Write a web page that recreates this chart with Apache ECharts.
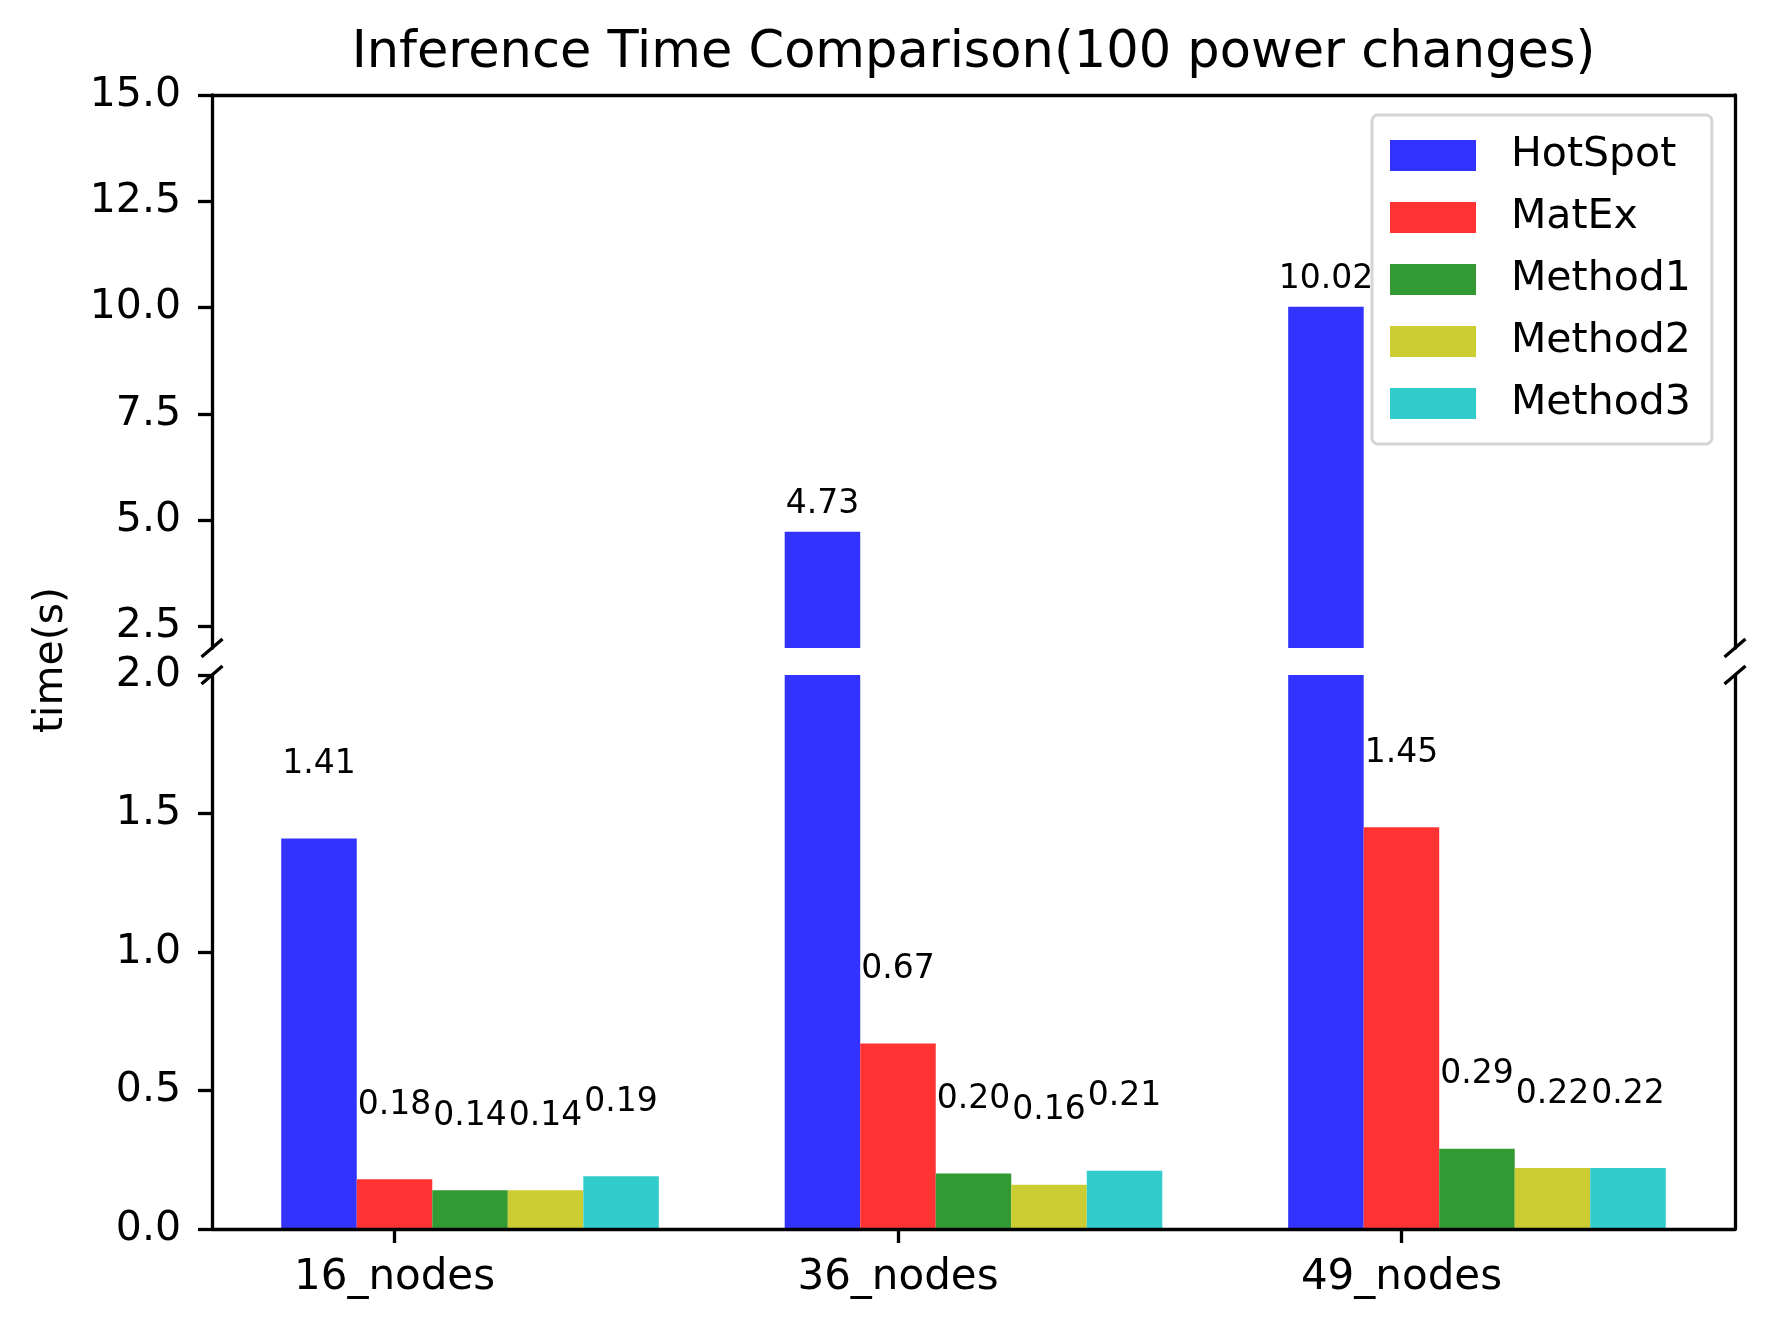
<!DOCTYPE html>
<html>
<head>
<meta charset="utf-8">
<script src="https://cdn.jsdelivr.net/npm/echarts@6/dist/echarts.min.js"></script>
<style>html,body{margin:0;padding:0;background:#fff}#main{width:1769px;height:1323px}</style>
</head>
<body>
<div id="main"></div>
<script>
// ---------------- data ----------------
const categories = ['16_nodes', '36_nodes', '49_nodes'];
const seriesNames = ['HotSpot', 'MatEx', 'Method1', 'Method2', 'Method3'];
const hotspot = [1.41, 4.73, 10.02];
const matex   = [0.18, 0.67, 1.45];
const method1 = [0.14, 0.20, 0.29];
const method2 = [0.14, 0.16, 0.22];
const method3 = [0.19, 0.21, 0.22];
const upperTicks = [2.5, 5, 7.5, 10, 12.5, 15];
const lowerTicks = [0, 0.5, 1, 1.5, 2];
const titleText = 'Inference Time Comparison(100 power changes)';
const yName = 'time(s)';

// ---------------- style / layout ----------------
const values = [hotspot, matex, method1, method2, method3];
const colors = ['#3333ff', '#ff3333', '#339933', '#cccc33', '#33cccc'];
const PL = 212, PR = 1735, UT = 95, UB = 648, LT = 675, LB = 1229;
const UPPER_MIN = 2, UPPER_MAX = 15, LOWER_MIN = 0, LOWER_MAX = 2;
const BAR = 0.15;                 // bar width in category units
const XMIN = -0.3625, XMAX = 2.6625;
const pxPerUnit = (PR - PL) / (XMAX - XMIN);
const FONT = '"DejaVu Sans", "Noto Sans", sans-serif';
const LW = 3.3;
const lineStyle = { color: '#000', width: LW };

const chart = echarts.init(document.getElementById('main'), null, { renderer: 'canvas' });

function xAxisBase(gridIndex) {
  return {
    type: 'value', gridIndex, min: XMIN, max: XMAX,
    splitLine: { show: false }, z: 5,
    axisLine: { show: true, onZero: false, lineStyle }
  };
}
function yRight(gridIndex, min, max) {
  return {
    type: 'value', gridIndex, min, max, position: 'right', z: 5,
    axisLine: { show: true, onZero: false, lineStyle },
    axisTick: { show: false }, axisLabel: { show: false }, splitLine: { show: false }
  };
}
function yLeft(gridIndex, min, max, ticks) {
  return {
    type: 'value', gridIndex, min, max, position: 'left', z: 5,
    axisLine: { show: true, onZero: false, lineStyle },
    axisTick: { show: true, length: 14, lineStyle, customValues: ticks },
    axisLabel: {
      show: true, customValues: ticks, margin: 31,
      fontFamily: FONT, fontSize: 41, color: '#000',
      formatter: v => Number(v).toFixed(1)
    },
    splitLine: { show: false }
  };
}

const series = [];
// lower panel: all series
values.forEach((arr, s) => {
  series.push({
    name: seriesNames[s], type: 'bar', xAxisIndex: 1, yAxisIndex: 2,
    barWidth: BAR * pxPerUnit, barGap: '-100%', clip: true,
    itemStyle: { color: colors[s] },
    label: {
      show: true, position: 'top', distance: 74, verticalAlign: 'middle',
      fontFamily: FONT, fontSize: 33, color: '#000',
      formatter: p => p.value[1].toFixed(2)
    },
    data: arr.map((v, i) => ({ value: [i + (s - 1) * BAR, v], label: { show: v <= LOWER_MAX } }))
  });
});
// upper panel: all series (only the tall ones are visible)
values.forEach((arr, s) => {
  series.push({
    name: seriesNames[s], type: 'bar', xAxisIndex: 0, yAxisIndex: 0,
    barWidth: BAR * pxPerUnit, barGap: '-100%', clip: true,
    itemStyle: { color: colors[s] },
    label: {
      show: true, position: 'top', distance: 27, verticalAlign: 'middle',
      fontFamily: FONT, fontSize: 33, color: '#000',
      formatter: p => p.value[1].toFixed(2)
    },
    data: arr.map((v, i) => ({ value: [i + (s - 1) * BAR, v], label: { show: v > UPPER_MIN } }))
  });
});

function breakLine(cx, cy) {
  return {
    type: 'line', z: 100, silent: true,
    shape: { x1: cx - 10.5, y1: cy + 9, x2: cx + 10.5, y2: cy - 9 },
    style: { stroke: '#000', lineWidth: LW }
  };
}

const option = {
  animation: false,
  backgroundColor: '#fff',
  grid: [
    { left: PL, top: UT, width: PR - PL, height: UB - UT, containLabel: false, outerBoundsMode: 'none' },
    { left: PL, top: LT, width: PR - PL, height: LB - LT, containLabel: false, outerBoundsMode: 'none' }
  ],
  xAxis: [
    Object.assign(xAxisBase(0), { position: 'top', axisTick: { show: false }, axisLabel: { show: false } }),
    Object.assign(xAxisBase(1), {
      position: 'bottom',
      axisTick: { show: true, length: 14, lineStyle, customValues: [0, 1, 2] },
      axisLabel: {
        show: true, customValues: [0, 1, 2], margin: 28,
        fontFamily: FONT, fontSize: 42, color: '#000',
        formatter: v => categories[Math.round(v)]
      }
    })
  ],
  yAxis: [
    yLeft(0, UPPER_MIN, UPPER_MAX, upperTicks),
    yRight(0, UPPER_MIN, UPPER_MAX),
    yLeft(1, LOWER_MIN, LOWER_MAX, lowerTicks),
    yRight(1, LOWER_MIN, LOWER_MAX)
  ],
  legend: {
    orient: 'vertical', left: 1372, top: 115,
    data: seriesNames, icon: 'rect',
    itemWidth: 86, itemHeight: 31, itemGap: 21,
    padding: [20, 21, 20, 18],
    backgroundColor: 'rgba(255,255,255,0.8)',
    borderColor: '#d5d5d5', borderWidth: 3, borderRadius: 6,
    textStyle: { fontFamily: FONT, fontSize: 41, color: '#000', lineHeight: 31, padding: [0, 0, 0, 30] }
  },
  graphic: [
    {
      type: 'text', x: (PL + PR) / 2, y: 54, z: 100,
      style: { text: titleText, font: '51px ' + FONT, fill: '#000', align: 'center', verticalAlign: 'middle' }
    },
    {
      type: 'text', x: 51, y: 660, rotation: Math.PI / 2, z: 100,
      style: { text: yName, font: '41px ' + FONT, fill: '#000', align: 'center', verticalAlign: 'middle' }
    },
    breakLine(PL, UB), breakLine(PR, UB), breakLine(PL, LT), breakLine(PR, LT)
  ],
  series
};
chart.setOption(option);
</script>
</body>
</html>
